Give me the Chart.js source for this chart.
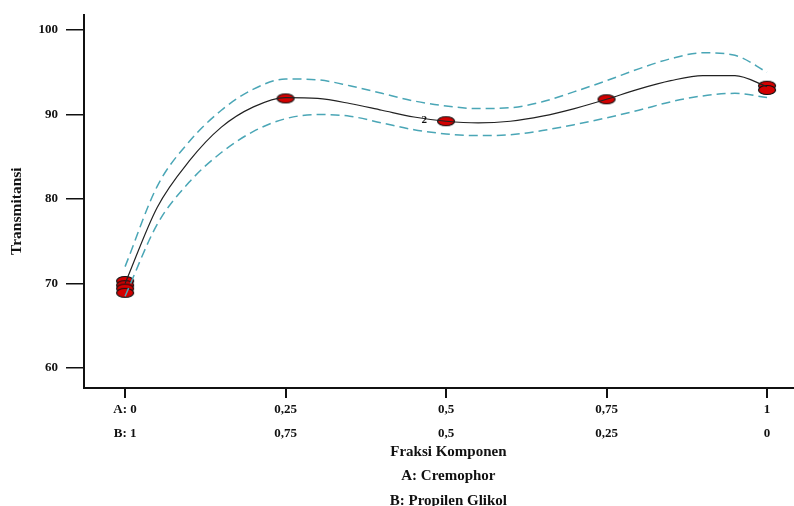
<!DOCTYPE html>
<html>
<head>
<meta charset="utf-8">
<script src="https://cdn.jsdelivr.net/npm/chart.js@4.4.0/dist/chart.umd.min.js"></script>
<style>
  html, body { margin: 0; padding: 0; background: #fff; }
  #wrap { width: 794px; height: 506px; }
</style>
</head>
<body>
<div id="wrap"><canvas id="chart"></canvas></div>
<script>
// Fraksi A (Cremophor) pour la courbe ajustée et les bandes
const fraksi = [0, 0.05, 0.1, 0.15, 0.2, 0.25, 0.3, 0.35, 0.4, 0.45, 0.5,
  0.55, 0.6, 0.65, 0.7, 0.75, 0.8, 0.85, 0.9, 0.95, 1];
const prediksi = [70, 79, 84.5, 88.5, 90.9, 92, 91.9, 91.3, 90.5, 89.7, 89.2,
  89.0, 89.2, 89.8, 90.7, 91.8, 93.0, 94.0, 94.6, 94.6, 93.3];
const batasAtas = [72, 81.5, 86.8, 90.5, 93.0, 94.2, 94.1, 93.4, 92.5, 91.6, 91.0,
  90.7, 90.8, 91.5, 92.7, 94.0, 95.4, 96.6, 97.3, 97.0, 95.0];
const batasBawah = [68.5, 77, 82, 85.5, 88, 89.5, 90.0, 89.8, 89.0, 88.2, 87.7,
  87.5, 87.6, 88.1, 88.8, 89.6, 90.5, 91.5, 92.2, 92.5, 92.0];

// Titik percobaan
const titikX = [0, 0, 0, 0, 0.25, 0.5, 0.75, 1, 1];
const titikY = [70.3, 69.8, 69.4, 68.9, 91.9, 89.2, 91.8, 93.4, 92.9];

const xTicks = [0, 0.25, 0.5, 0.75, 1];
const labelA = ["A: 0", "0,25", "0,5", "0,75", "1"];
const labelB = ["B: 1", "0,75", "0,5", "0,25", "0"];
const yTicks = [60, 70, 80, 90, 100];
const judulX = ["Fraksi Komponen", "A: Cremophor", "B: Propilen Glikol"];

const serif = "'Liberation Serif', 'DejaVu Serif', serif";

// Point elliptique rouge
function makeEllipse() {
  const c = document.createElement("canvas");
  c.width = 20;
  c.height = 12;
  const g = c.getContext("2d");
  g.beginPath();
  g.ellipse(10, 6, 8.5, 4.5, 0, 0, Math.PI * 2);
  g.fillStyle = "#d40000";
  g.fill();
  g.lineWidth = 1.2;
  g.strokeStyle = "#111";
  g.stroke();
  return c;
}
const ellipse = makeEllipse();

const toXY = (xs, ys) => xs.map((x, i) => ({ x: x, y: ys[i] }));

// Petit "2" à côté du point répété
const labelPlugin = {
  id: "replikat",
  afterDatasetsDraw(chart) {
    const { ctx, scales } = chart;
    ctx.save();
    ctx.font = "bold 11px " + serif;
    ctx.fillStyle = "#111";
    ctx.textAlign = "center";
    ctx.textBaseline = "middle";
    ctx.fillText("2", scales.x.getPixelForValue(0.466), scales.y.getPixelForValue(89.3));
    ctx.restore();
  },
};

const band = {
  borderColor: "#4aa6b6",
  borderWidth: 1.5,
  borderDash: [9, 5],
  pointRadius: 0,
  fill: false,
  cubicInterpolationMode: "monotone",
};

new Chart(document.getElementById("chart"), {
  type: "line",
  data: {
    datasets: [
      { ...band, data: toXY(fraksi, batasAtas) },
      { ...band, data: toXY(fraksi, batasBawah) },
      {
        data: toXY(fraksi, prediksi),
        borderColor: "#222",
        borderWidth: 1.2,
        pointRadius: 0,
        fill: false,
        cubicInterpolationMode: "monotone",
      },
      {
        data: toXY(titikX, titikY),
        showLine: false,
        pointStyle: ellipse,
        pointRadius: 9,
      },
    ],
  },
  options: {
    responsive: true,
    maintainAspectRatio: false,
    animation: false,
    layout: { autoPadding: false, padding: { top: 15, right: 0, left: 0, bottom: 0 } },
    plugins: { legend: { display: false }, tooltip: { enabled: false } },
    scales: {
      x: {
        type: "linear",
        min: -0.064,
        max: 1.042,
        afterFit: (s) => {
          s.height = 118;
          s.paddingLeft = 0;
          s.paddingRight = 0;
        },
        afterBuildTicks: (s) => { s.ticks = xTicks.map((v) => ({ value: v })); },
        border: { color: "#111", width: 2 },
        grid: { drawOnChartArea: false, color: "#111", lineWidth: 2, tickLength: 10 },
        ticks: {
          padding: 0,
          color: "#111",
          font: { family: serif, size: 13, weight: "bold", lineHeight: "24px" },
          maxRotation: 0,
          callback: (v) => {
            const i = xTicks.indexOf(v);
            return i < 0 ? "" : [labelA[i], labelB[i]];
          },
        },
        title: {
          display: true,
          // espaces en tête pour centrer sous 0,5 comme l'original
          text: judulX.map((t) => "     " + t),
          color: "#111",
          font: { family: serif, size: 15, weight: "bold", lineHeight: "24.5px" },
          padding: { top: 0, bottom: -7 },
        },
      },
      y: {
        min: 57.64,
        max: 101.77,
        afterFit: (s) => {
          s.width = 84;
          s.paddingTop = 0;
          s.paddingBottom = 0;
        },
        afterBuildTicks: (s) => { s.ticks = yTicks.map((v) => ({ value: v })); },
        border: { color: "#111", width: 2 },
        grid: { drawOnChartArea: false, color: "#111", lineWidth: 1.5, tickLength: 18 },
        ticks: {
          padding: 8,
          color: "#111",
          font: { family: serif, size: 13, weight: "bold" },
        },
        title: {
          display: true,
          text: "Transmitansi     ",
          color: "#111",
          font: { family: serif, size: 15.5, weight: "bold" },
          padding: { top: 8, bottom: 0 },
        },
      },
    },
  },
  plugins: [labelPlugin],
});
</script>
</body>
</html>
